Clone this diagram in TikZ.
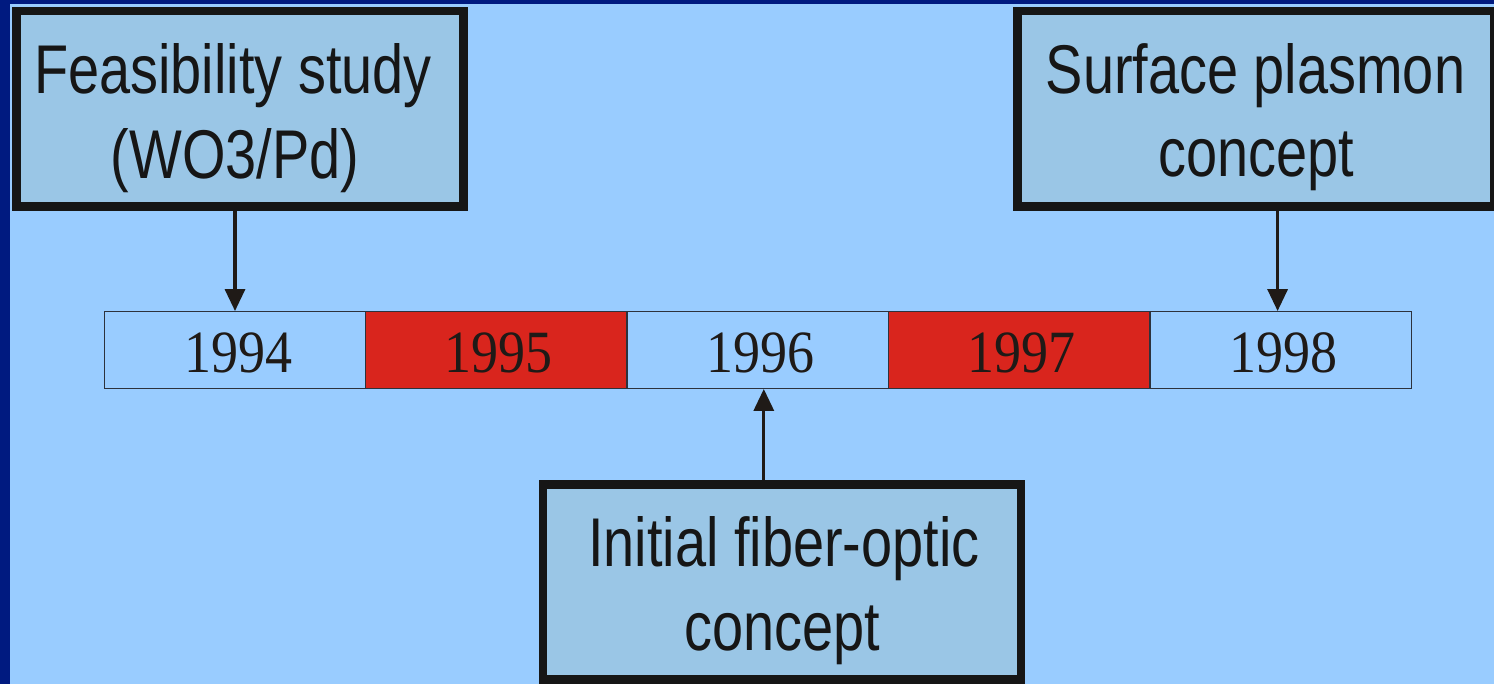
\documentclass[tikz,border=0pt]{standalone}
\usepackage{fontspec}
\usetikzlibrary{arrows.meta}
\newfontfamily\boxfont[FakeStretch=0.81]{Liberation Sans}
\newfontfamily\yearfont[FakeStretch=0.9]{Liberation Serif}
\definecolor{bgblue}{RGB}{153,204,255}
\definecolor{navy}{RGB}{0,26,128}
\definecolor{boxfill}{RGB}{154,198,230}
\definecolor{boxline}{RGB}{22,22,22}
\definecolor{cellred}{RGB}{217,37,29}
\definecolor{cellline}{RGB}{45,50,60}
\definecolor{ink}{RGB}{31,26,23}
\tikzset{
  eventbox/.style={draw=boxline, fill=boxfill, line width=8.5pt, inner sep=0pt, rectangle},
  boxtext/.style={anchor=base, inner sep=0pt, text=boxline, font=\boxfont\fontsize{69}{80}\selectfont},
  yearcell/.style={draw=cellline, line width=1.3pt, inner sep=0pt, rectangle,
    minimum width=261.4pt, minimum height=76.6pt, fill=bgblue},
  redcell/.style={yearcell, fill=cellred},
  yeartext/.style={anchor=base, inner sep=0pt, text=ink, font=\yearfont\fontsize{60}{70}\selectfont},
  arr/.style={draw=ink, line width=3.3pt, -{Triangle[width=20pt,length=22pt]}}
}
\begin{document}
\begin{tikzpicture}[x=1pt,y=-1pt]
\useasboundingbox (0,0) rectangle (1494,684);
\fill[bgblue] (0,0) rectangle (1494,684);
\fill[navy] (0,0) rectangle (1494,4);
\fill[navy] (0,0) rectangle (10,684);

% event boxes
\node[eventbox, minimum width=447.2pt, minimum height=195.5pt] (lb) at (239.9,109) {};
\node[eventbox, minimum width=476.5pt, minimum height=195.5pt] (rb) at (1255.7,109) {};
\node[eventbox, minimum width=477.6pt, minimum height=194.8pt] (bb) at (782,581.9) {};

\node[boxtext] (lb1) at (233,93.3) {Feasibility study};
\node[boxtext] (lb2) at (235,178.3) {(WO3/Pd)};
\node[boxtext] (rb1) at (1255.5,93.5) {Surface plasmon};
\node[boxtext] (rb2) at (1256,177) {concept};
\node[boxtext] (bb1) at (784,566.7) {Initial fiber-optic};
\node[boxtext] (bb2) at (782,650) {concept};

% timeline
\node[yearcell] (c94) at (235,350) {};
\node[redcell]  (c95) at (496.4,350) {};
\node[yearcell] (c96) at (757.8,350) {};
\node[redcell]  (c97) at (1019.2,350) {};
\node[yearcell] (c98) at (1280.6,350) {};

\node[yeartext] (y94) at (238,372.5) {1994};
\node[yeartext] (y95) at (498,372.5) {1995};
\node[yeartext] (y96) at (760,372.5) {1996};
\node[yeartext] (y97) at (1021,372.5) {1997};
\node[yeartext] (y98) at (1283,372.5) {1998};

% connectors
\draw[arr] (c94.north |- lb.south) -- (c94.north);
\draw[arr] ([xshift=-3pt]c98.north |- rb.south) -- ([xshift=-3pt]c98.north);
\draw[arr] ([xshift=6pt]c96.south |- bb.north) -- ([xshift=6pt]c96.south);
\end{tikzpicture}
\end{document}
